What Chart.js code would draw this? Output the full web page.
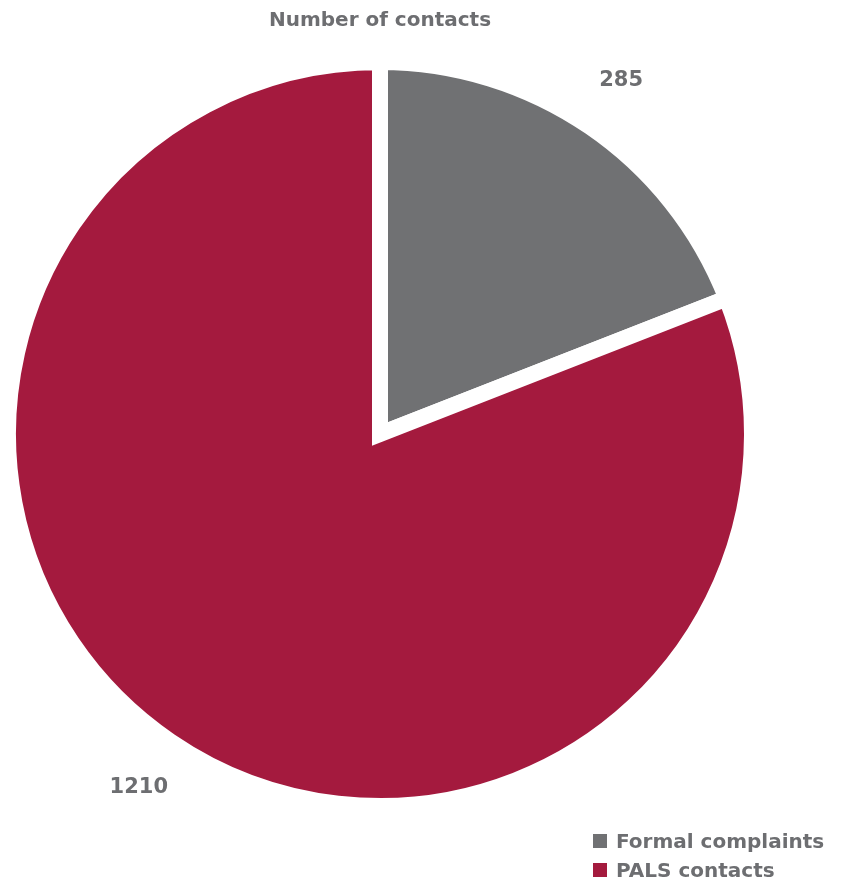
<!DOCTYPE html>
<html>
<head>
<meta charset="utf-8">
<script src="https://cdn.jsdelivr.net/npm/chart.js@4.4.1/dist/chart.umd.min.js"></script>
<style>
  html, body { margin: 0; padding: 0; background: #ffffff; }
  #wrap { width: 844px; height: 879px; }
</style>
</head>
<body>
<div id="wrap"><canvas id="contactsChart" width="844" height="879"></canvas></div>
<script>
// Dane wykresu
const categories = ['Formal complaints', 'PALS contacts'];
const contacts = [285, 1210];
const sliceColors = ['#707173', '#a41a3e'];
const chartTitle = 'Number of contacts';

const textColor = '#6d6e71';
const fontFamily = '"DejaVu Sans", sans-serif';

// Etykiety wartosci przy wycinkach
const sliceLabels = {
    id: 'sliceLabels',
    afterDatasetsDraw(chart) {
        const ctx = chart.ctx;
        const meta = chart.getDatasetMeta(0);
        ctx.save();
        ctx.font = 'bold 21px ' + fontFamily;
        ctx.fillStyle = textColor;
        ctx.textAlign = 'center';
        ctx.textBaseline = 'middle';
        meta.data.forEach((arc, i) => {
            const p = arc.getProps(['x', 'y', 'startAngle', 'endAngle', 'outerRadius'], true);
            const mid = (p.startAngle + p.endAngle) / 2;
            const r = p.outerRadius * 1.15;
            ctx.fillText(String(contacts[i]), p.x + Math.cos(mid) * r, p.y + Math.sin(mid) * r);
        });
        ctx.restore();
    }
};

// Legenda w prawym dolnym rogu (dwa wiersze)
const cornerLegend = {
    id: 'cornerLegend',
    afterDraw(chart) {
        const ctx = chart.ctx;
        const colors = chart.data.datasets[0].backgroundColor;
        ctx.save();
        ctx.font = 'bold 20px ' + fontFamily;
        ctx.textAlign = 'left';
        ctx.textBaseline = 'alphabetic';
        chart.data.labels.forEach((label, i) => {
            const base = 848 + i * 29;
            ctx.fillStyle = colors[i];
            ctx.fillRect(593, base - 14, 14, 14);
            ctx.fillStyle = textColor;
            ctx.fillText(label, 616, base);
        });
        ctx.restore();
    }
};

const ctx = document.getElementById('contactsChart').getContext('2d');

new Chart(ctx, {
    type: 'pie',
    data: {
        labels: categories,
        datasets: [{
            data: contacts,
            backgroundColor: sliceColors,
            borderColor: '#ffffff',
            borderWidth: 16,
            hoverBorderWidth: 16,
            borderJoinStyle: 'miter',
            hoverOffset: 0
        }]
    },
    options: {
        responsive: false,
        animation: false,
        events: [],
        layout: {
            padding: { left: 0, right: 84, top: 0, bottom: 65 }
        },
        plugins: {
            legend: { display: false },
            tooltip: { enabled: false },
            title: {
                display: true,
                text: chartTitle,
                color: textColor,
                font: { family: fontFamily, size: 20, weight: 'bold', lineHeight: 1.2 },
                padding: { top: 9, bottom: 21 }
            }
        }
    },
    plugins: [sliceLabels, cornerLegend]
});
</script>
</body>
</html>
